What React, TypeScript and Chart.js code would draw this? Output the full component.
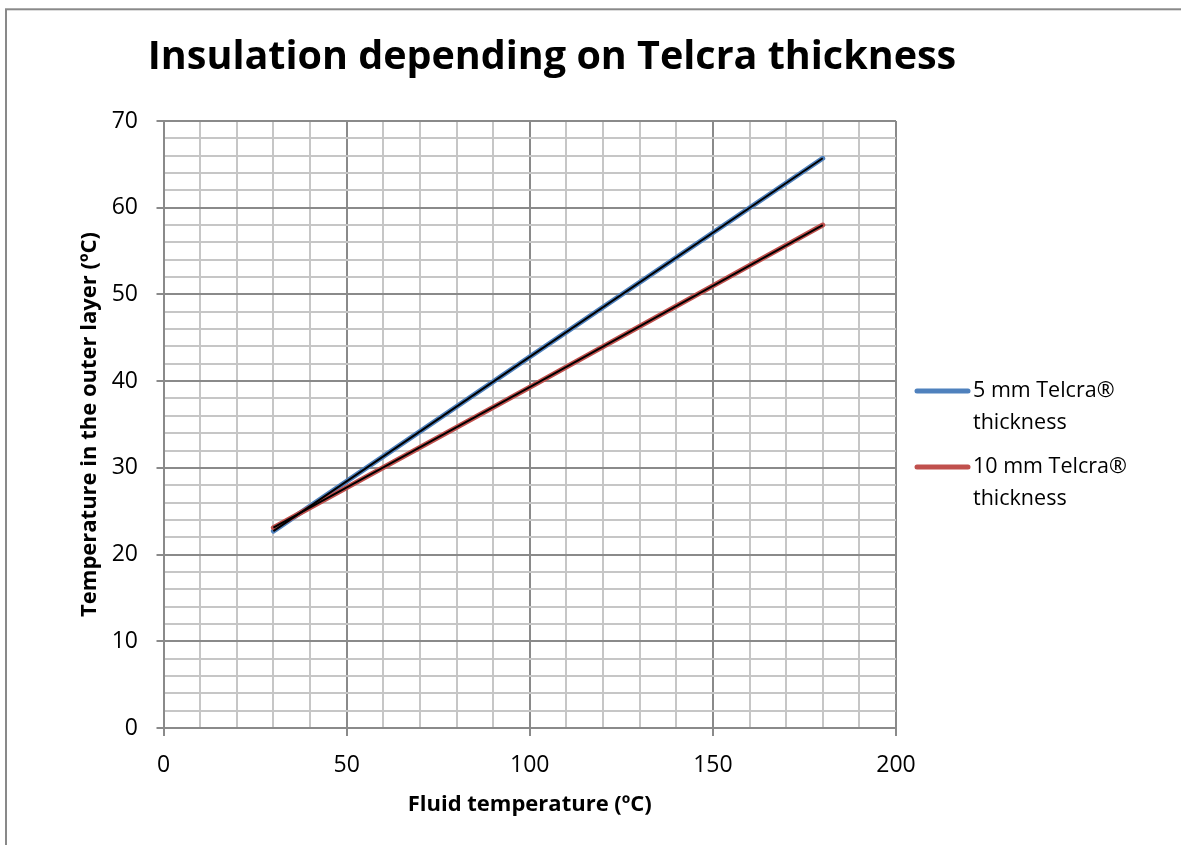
import React, { useEffect, useRef } from "react";
import { Chart, registerables } from "chart.js";

Chart.register(...registerables);

const chartTitle = "Insulation depending on Telcra thickness";
const xAxisTitle = "Fluid temperature (ºC)";
const yAxisTitle = "Temperature in the outer layer (ºC)";

const fluidTemps = [30, 100, 180];
const thickness5mm = [22.7, 42.8, 65.7];
const thickness10mm = [23.1, 39.3, 58.0];

const seriesLabels = [
  ["5 mm Telcra®", "thickness"],
  ["10 mm Telcra®", "thickness"],
];
const seriesColors = ["#4F81BD", "#C0504D"];

const FONT = "'Open Sans', sans-serif";
const MAJOR = "#8A8A8A";
const MINOR = "#C6C6C6";

const toPoints = (ys: number[]) => fluidTemps.map((x, i) => ({ x, y: ys[i] }));

const framePlugin = {
  id: "frame",
  beforeDraw(chart: any) {
    const { ctx } = chart;
    ctx.save();
    ctx.fillStyle = "#ffffff";
    ctx.fillRect(0, 0, chart.width, chart.height);
    ctx.strokeStyle = "#898989";
    ctx.lineWidth = 2;
    ctx.strokeRect(6, 9.3, chart.width + 20, chart.height + 20);
    ctx.restore();
  },
  afterDraw(chart: any) {
    const { ctx, chartArea } = chart;
    ctx.save();
    // title
    ctx.fillStyle = "#000";
    ctx.font = `bold 39.5px ${FONT}`;
    ctx.textAlign = "center";
    ctx.textBaseline = "middle";
    ctx.fillText(chartTitle, chartArea.left + 388.5, 58);
    // legend
    ctx.font = `21.5px ${FONT}`;
    ctx.textAlign = "left";
    seriesLabels.forEach((lines, i) => {
      const y0 = chartArea.top + 270 + i * 76;
      ctx.strokeStyle = seriesColors[i];
      ctx.lineWidth = 5;
      ctx.lineCap = "round";
      ctx.beginPath();
      ctx.moveTo(chartArea.right + 21, y0);
      ctx.lineTo(chartArea.right + 72, y0);
      ctx.stroke();
      lines.forEach((t, j) => {
        ctx.fillText(t, chartArea.right + 77, y0 + j * 32);
      });
    });
    ctx.restore();
  },
};

export default function App() {
  const ref = useRef<HTMLCanvasElement | null>(null);
  useEffect(() => {
    if (!ref.current) return;
    const chart = new Chart(ref.current, {
      type: "scatter",
      data: {
        datasets: [
          {
            label: "5 mm black",
            data: toPoints(thickness5mm),
            showLine: true,
            borderColor: "#000000",
            borderWidth: 2,
            pointRadius: 0,
            order: 0,
          },
          {
            label: "10 mm black",
            data: toPoints(thickness10mm),
            showLine: true,
            borderColor: "#000000",
            borderWidth: 2,
            pointRadius: 0,
            order: 0,
          },
          {
            label: seriesLabels[1].join(" "),
            data: toPoints(thickness10mm),
            showLine: true,
            borderColor: seriesColors[1],
            borderWidth: 5,
            borderCapStyle: "round",
            pointRadius: 0,
            order: 1,
          },
          {
            label: seriesLabels[0].join(" "),
            data: toPoints(thickness5mm),
            showLine: true,
            borderColor: seriesColors[0],
            borderWidth: 5,
            borderCapStyle: "round",
            pointRadius: 0,
            order: 2,
          },
        ],
      },
      options: {
        animation: false,
        responsive: false,
        layout: { padding: { left: 76.8, top: 121, right: 285, bottom: 26.8 } },
        plugins: {
          legend: { display: false },
          tooltip: { enabled: false },
          title: { display: false },
        },
        scales: {
          x: {
            type: "linear",
            min: 0,
            max: 200,
            afterFit: (s: any) => {
              s.height = 90.2;
            },
            ticks: {
              stepSize: 10,
              autoSkip: false,
              maxRotation: 0,
              padding: 16,
              color: "#000",
              font: { family: FONT, size: 23 },
              callback: (v: any) => (Number(v) % 50 === 0 ? String(v) : ""),
            },
            grid: {
              color: (c: any) => (c.tick && c.tick.value % 50 === 0 ? MAJOR : MINOR),
              tickColor: (c: any) => (c.tick && c.tick.value % 50 === 0 ? MAJOR : "rgba(0,0,0,0)"),
              tickLength: 8,
              lineWidth: 2,
            },
            border: { display: true, color: MAJOR, width: 2 },
            title: {
              display: true,
              text: xAxisTitle,
              color: "#000",
              font: { family: FONT, size: 22, weight: "bold" },
              padding: { top: 0, bottom: 0 },
            },
          },
          y: {
            type: "linear",
            min: 0,
            max: 70,
            afterFit: (s: any) => {
              s.width = 86.7;
            },
            ticks: {
              stepSize: 2,
              autoSkip: false,
              padding: 18.5,
              color: "#000",
              font: { family: FONT, size: 23 },
              callback: (v: any) => (Number(v) % 10 === 0 ? String(v) : ""),
            },
            grid: {
              color: (c: any) => (c.tick && c.tick.value % 10 === 0 ? MAJOR : MINOR),
              tickColor: (c: any) => (c.tick && c.tick.value % 10 === 0 ? MAJOR : "rgba(0,0,0,0)"),
              tickLength: 7,
              lineWidth: 2,
            },
            border: { display: true, color: MAJOR, width: 2 },
            title: {
              display: true,
              text: yAxisTitle,
              color: "#000",
              font: { family: FONT, size: 22, weight: "bold" },
              padding: { top: 0, bottom: 0 },
            },
          },
        },
      },
      plugins: [framePlugin],
    } as any);
    return () => chart.destroy();
  }, []);
  return (
    <div style={{ position: "fixed", left: 0, top: 0, width: 1181, height: 845, background: "#fff" }}>
      <canvas ref={ref} width={1181} height={845} style={{ width: 1181, height: 845, display: "block" }} />
    </div>
  );
}
